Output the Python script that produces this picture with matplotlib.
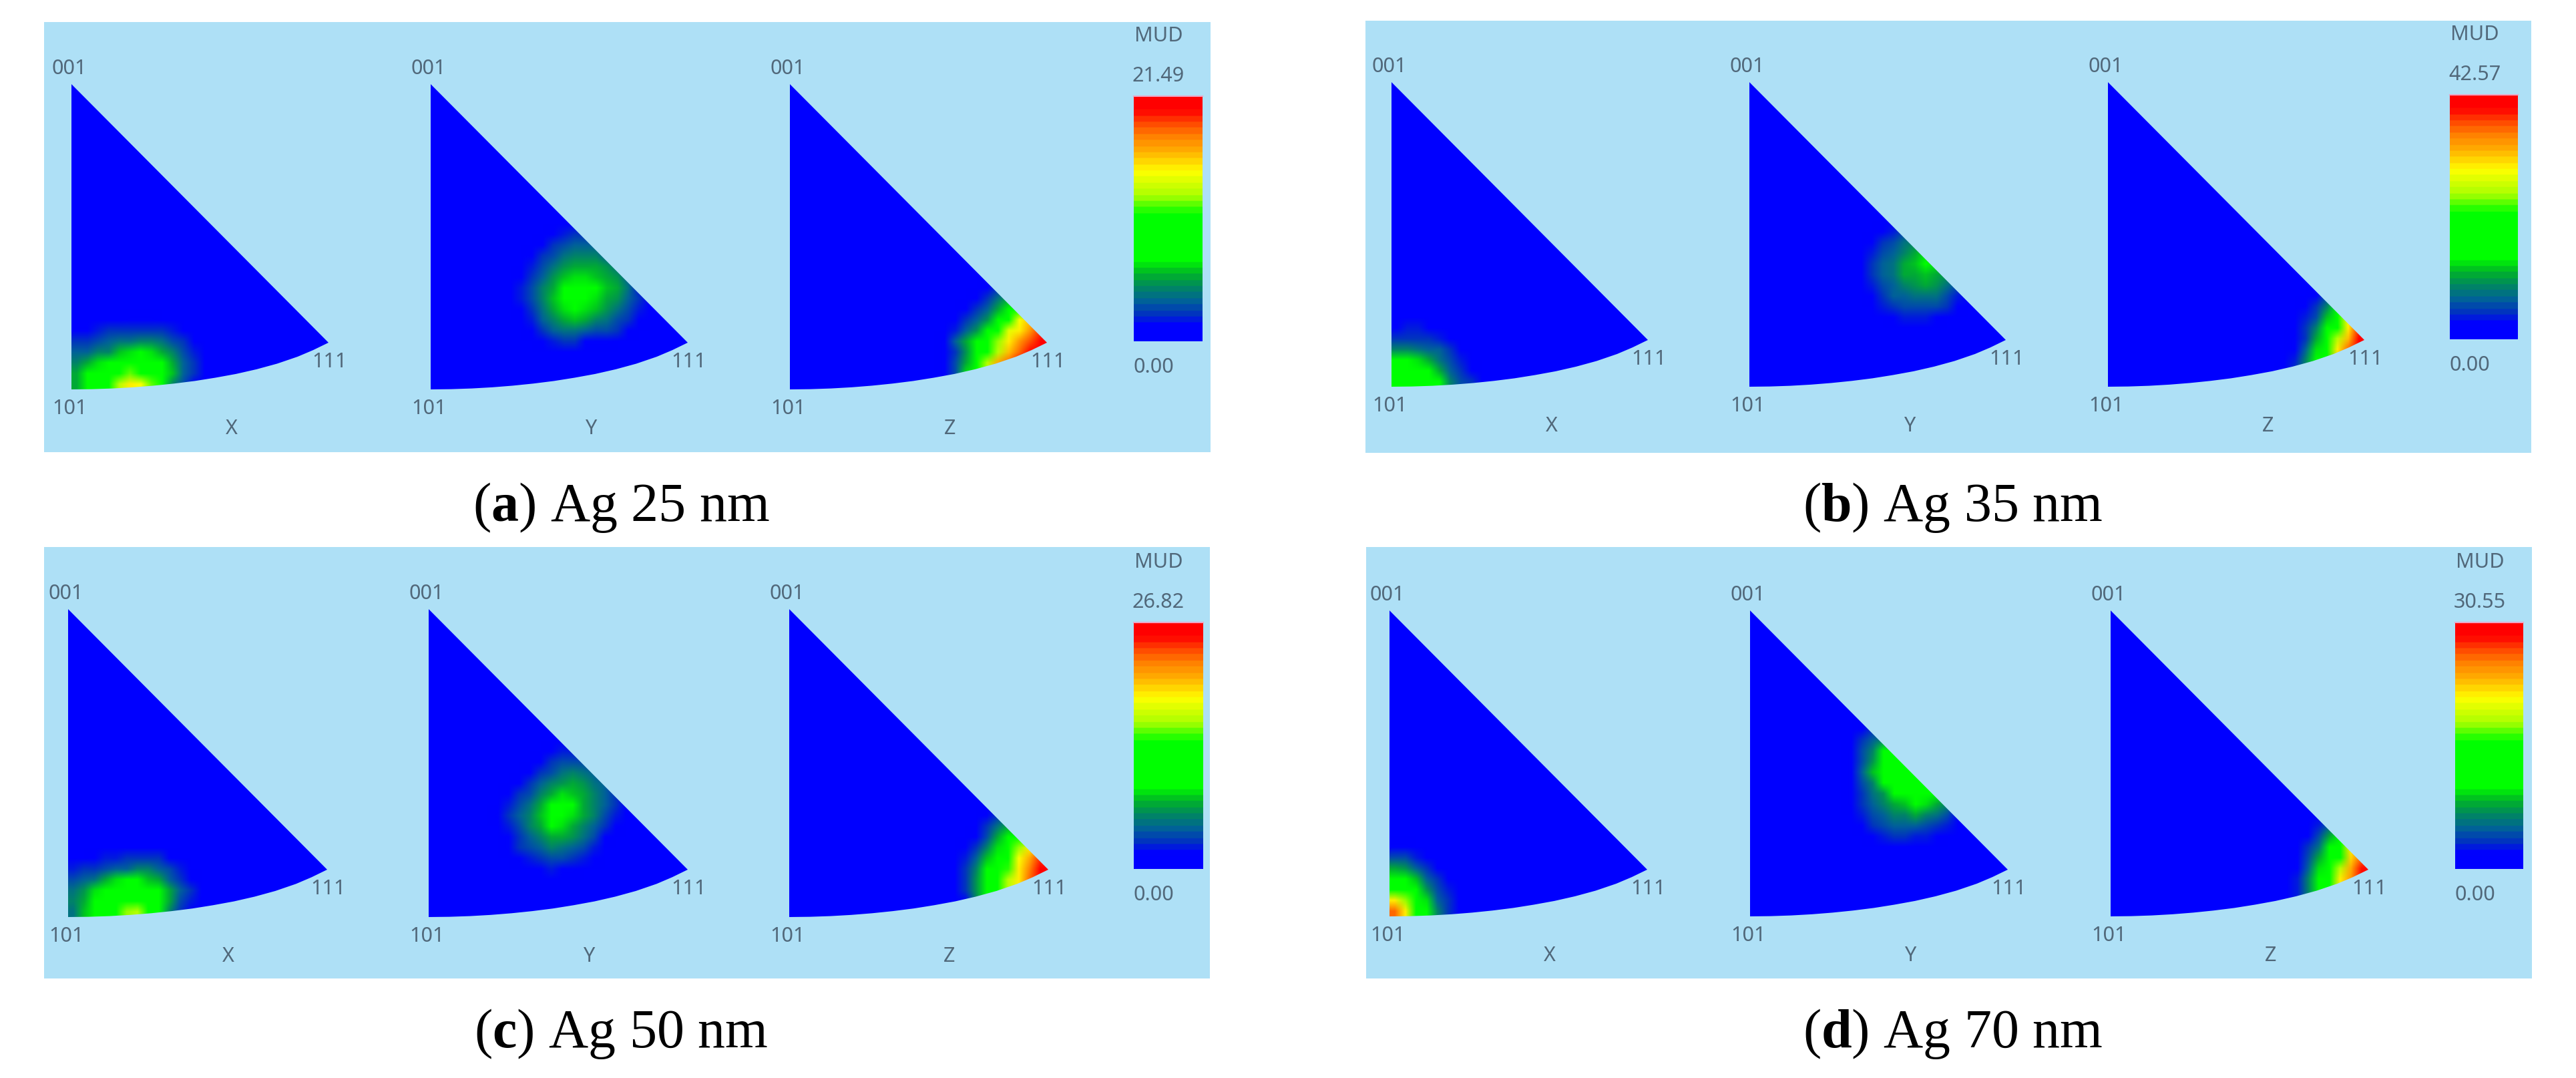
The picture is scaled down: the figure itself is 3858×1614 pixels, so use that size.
import numpy as np
import matplotlib
matplotlib.use("Agg")
import matplotlib.pyplot as plt
from matplotlib.colors import LinearSegmentedColormap
from matplotlib.patches import Polygon, Rectangle

plt.rcParams["mathtext.fontset"] = "custom"
plt.rcParams["mathtext.rm"] = "Liberation Serif"
plt.rcParams["mathtext.bf"] = "Liberation Serif:bold"

# caption letters, film thickness and colour bar maxima
LETTERS = ["a", "b", "c", "d"]
THICKNESS = ["25", "35", "50", "70"]
MUD_MAX = ["21.49", "42.57", "26.82", "30.55"]
AXES_NAMES = ["X", "Y", "Z"]

# colour bar: position on the bar and colour
BAR_POS = [0, .05, .10, .157, .22, .27, .33, .52, .60, .70, .78, .85, .91, .96, 1]
BAR_COL = ["#0000ff", "#0000ff", "#0032c0", "#006496", "#008c5a", "#00b428", "#00ff00", "#00ff00",
           "#aaff00", "#ffff00", "#ffb400", "#ff8000", "#ff4000", "#ff0000", "#ff0000"]

# density patches as fractions of the maximum, top row first
A_X = [[0, 0, 0, .03, .03, .05, .05, .05, .03, 0, 0, 0, 0],
       [.06, .06, .08, .11, .11, .11, .12, .12, .12, .08, .03, 0, 0],
       [.11, .11, .13, .16, .18, .18, .2, .2, .18, .14, .1, .04, 0],
       [.15, .15, .2, .22, .28, .32, .33, .32, .26, .2, .13, .09, .02],
       [.22, .26, .32, .35, .37, .4, .4, .38, .35, .25, .16, .11, .03],
       [.26, .33, .38, .42, .52, .56, .52, .42, .36, .28, .17, .1, .02],
       [.25, .33, .36, .45, .62, .72, .68, .55, .33, .22, .13, .06, 0]]
A_Y = [[0, 0, 0, 0, .05, .09, .12, .12, .09, .05, 0, 0, 0],
       [0, 0, 0, .05, .1, .14, .17, .17, .15, .1, .05, 0, 0],
       [0, 0, .05, .1, .14, .19, .22, .22, .2, .16, .1, 0, 0],
       [0, .03, .09, .14, .19, .24, .27, .27, .27, .24, .18, .11, 0],
       [0, .06, .12, .17, .24, .28, .32, .32, .29, .27, .24, .17, .05],
       [.02, .09, .14, .2, .27, .33, .38, .4, .34, .28, .25, .19, .09],
       [.02, .08, .14, .2, .28, .35, .4, .38, .32, .27, .23, .17, .1],
       [.01, .06, .12, .18, .26, .31, .34, .32, .28, .23, .18, .14, .08],
       [0, .03, .08, .15, .21, .27, .28, .25, .21, .18, .14, .1, .05],
       [0, 0, .05, .11, .15, .18, .19, .17, .14, .13, .12, .07, .02],
       [0, 0, .02, .05, .09, .11, .1, .07, .05, .05, .04, .02, 0]]
A_Z = [[0, 0, 0, 0, 0, .03, .05, .05, .05, 0, 0, 0],
       [0, 0, 0, 0, 0, .05, .11, .16, .16, .1, 0, 0],
       [0, 0, 0, 0, .05, .1, .18, .27, .27, .2, 0, 0],
       [0, 0, 0, .05, .1, .17, .25, .36, .45, .45, .4, 0],
       [0, 0, .04, .1, .16, .24, .36, .44, .68, .76, .85, .85],
       [0, .04, .09, .15, .24, .36, .45, .66, .72, .82, .9, .9],
       [0, .07, .15, .26, .36, .44, .58, .7, .8, .88, .97, 1],
       [0, .05, .12, .24, .36, .42, .62, .76, .85, .95, 1, 1],
       [0, .05, .13, .27, .38, .6, .78, .85, .95, 1, 1, 1],
       [.02, .06, .14, .3, .4, .6, .8, .85, .95, 1, 1, 1]]

B_X = [[.03, .03, 0, 0, 0, 0, 0, 0],
       [.07, .08, .08, .04, .02, 0, 0, 0],
       [.11, .12, .11, .1, .09, .04, 0, 0],
       [.2, .2, .18, .16, .15, .1, .04, 0],
       [.35, .33, .3, .25, .18, .13, .08, .02],
       [.38, .38, .36, .33, .26, .15, .11, .05],
       [.42, .4, .4, .38, .33, .2, .13, .1]]
B_Y = [[0, 0, 0, .05, .08, .07, .04, 0, 0, 0],
       [0, .02, .05, .09, .13, .14, .12, .06, 0, 0],
       [0, .05, .1, .14, .18, .22, .22, .13, .05, 0],
       [.02, .08, .14, .17, .22, .26, .3, .26, .1, 0],
       [.02, .1, .15, .18, .25, .28, .33, .3, .22, .1],
       [.02, .1, .15, .19, .25, .27, .28, .27, .23, .15],
       [.01, .09, .14, .17, .21, .24, .25, .23, .18, .13],
       [0, .07, .12, .15, .17, .18, .19, .18, .14, .09],
       [0, .04, .08, .11, .13, .14, .14, .13, .1, .06],
       [0, .02, .04, .06, .08, .08, .08, .06, .04, .02]]
B_Z = [[0, 0, 0, 0, .03, .06, .06, 0, 0, 0],
       [0, 0, 0, .02, .06, .13, .2, .2, 0, 0],
       [0, 0, 0, .05, .1, .2, .34, .4, 0, 0],
       [0, 0, 0, .08, .14, .28, .4, .68, .8, .8],
       [0, 0, .04, .1, .2, .34, .5, .72, .9, .9],
       [0, 0, .05, .12, .25, .38, .6, .75, .95, 1],
       [0, .02, .07, .15, .3, .42, .7, .85, 1, 1],
       [0, .04, .08, .2, .33, .42, .75, .9, 1, 1],
       [.02, .05, .1, .2, .33, .42, .75, .9, 1, 1]]

C_X = [[.02, .02, .02, .03, .03, .03, .03, .03, .03, .02, 0, 0],
       [.03, .03, .06, .08, .09, .1, .11, .12, .12, .07, .04, 0],
       [.08, .1, .12, .14, .16, .17, .2, .2, .17, .13, .09, .03],
       [.14, .15, .18, .26, .3, .36, .36, .29, .25, .17, .12, .07],
       [.18, .24, .3, .36, .4, .42, .42, .4, .33, .25, .15, .11],
       [.2, .26, .36, .42, .42, .42, .42, .42, .38, .26, .14, .08],
       [.18, .28, .36, .42, .48, .58, .6, .45, .35, .2, .1, .03]]
C_Y = [[0, 0, 0, 0, .02, .05, .08, .09, .08, .04, 0, 0],
       [0, 0, 0, .02, .06, .1, .13, .14, .13, .1, .04, 0],
       [0, 0, .02, .06, .11, .14, .18, .2, .18, .15, .1, .04],
       [0, .02, .06, .11, .15, .2, .24, .26, .23, .19, .15, .08],
       [.02, .05, .1, .14, .2, .27, .31, .28, .25, .22, .16, .11],
       [.04, .09, .14, .18, .26, .33, .36, .33, .26, .22, .17, .12],
       [.05, .1, .15, .22, .28, .34, .36, .32, .26, .2, .14, .09],
       [.04, .09, .14, .2, .27, .33, .32, .27, .22, .16, .11, .05],
       [.02, .07, .12, .17, .22, .27, .27, .23, .18, .13, .07, .02],
       [0, .05, .1, .14, .17, .2, .18, .15, .13, .09, .04, 0],
       [0, .02, .05, .09, .12, .14, .13, .12, .09, .05, .02, 0],
       [0, 0, .02, .04, .07, .08, .07, .06, .04, .02, 0, 0]]
C_Z = [[0, 0, 0, .02, .05, .05, 0, 0, 0, 0],
       [0, 0, 0, .06, .12, .16, .16, 0, 0, 0],
       [0, 0, .04, .1, .18, .27, .27, .2, 0, 0],
       [0, 0, .07, .14, .25, .36, .44, .44, 0, 0],
       [0, .05, .11, .2, .32, .42, .58, .72, .82, .82],
       [0, .09, .16, .28, .37, .46, .68, .78, .9, .9],
       [.03, .11, .22, .34, .4, .54, .7, .84, .95, 1],
       [.04, .12, .24, .36, .42, .62, .72, .86, .98, 1],
       [.03, .1, .24, .36, .42, .62, .72, .86, .98, 1],
       [.02, .07, .2, .36, .42, .62, .72, .86, .98, 1]]

D_X = [[.06, .06, .03, 0, 0, 0, 0, 0],
       [.13, .13, .09, .04, 0, 0, 0, 0],
       [.25, .23, .15, .1, .04, 0, 0, 0],
       [.36, .35, .28, .16, .1, .03, 0, 0],
       [.5, .42, .36, .24, .14, .08, 0, 0],
       [.72, .58, .38, .3, .17, .1, .02, 0],
       [.85, .72, .4, .34, .22, .12, .05, 0]]
D_Y = [[0, .05, .07, .07, 0, 0, 0, 0, 0, 0],
       [0, .05, .1, .12, .12, 0, 0, 0, 0, 0],
       [.03, .1, .15, .22, .2, .2, 0, 0, 0, 0],
       [.05, .13, .2, .36, .38, .35, .35, 0, 0, 0],
       [.06, .14, .24, .36, .4, .4, .36, .36, 0, 0],
       [.06, .15, .28, .33, .38, .42, .4, .36, .36, 0],
       [.06, .13, .22, .33, .38, .42, .42, .4, .35, .35],
       [.05, .12, .18, .24, .33, .4, .4, .38, .36, .25],
       [.05, .12, .16, .2, .26, .28, .33, .3, .27, .22],
       [.04, .09, .13, .17, .2, .22, .25, .22, .18, .14],
       [.02, .06, .1, .13, .15, .16, .17, .14, .11, .08],
       [0, .03, .06, .08, .1, .1, .09, .08, .05, .02]]
D_Z = [[0, 0, 0, 0, .03, .05, .05, 0, 0, 0],
       [0, 0, 0, .02, .06, .12, .12, 0, 0, 0],
       [0, 0, 0, .04, .09, .17, .24, .24, 0, 0],
       [0, 0, 0, .07, .13, .25, .36, .4, 0, 0],
       [0, 0, .03, .1, .18, .33, .42, .72, .82, .82],
       [0, 0, .05, .13, .26, .38, .48, .74, .86, .9],
       [0, .02, .07, .16, .3, .4, .62, .78, .94, 1],
       [0, .03, .08, .2, .36, .44, .7, .82, .98, 1],
       [0, .04, .09, .22, .36, .45, .7, .85, 1, 1],
       [0, .03, .09, .22, .36, .45, .7, .85, 1, 1]]

PATCHES = [[A_X, A_Y, A_Z], [B_X, B_Y, B_Z], [C_X, C_Y, C_Z], [D_X, D_Y, D_Z]]

# where each patch sits in the 16 px density grid: first column, top row
PATCH_AT = [[(0, 6), (7, 14), (13, 10)],
            [(0, 6), (10, 15), (15, 9)],
            [(0, 6), (6, 15), (15, 10)],
            [(0, 6), (9, 18), (15, 10)]]

# layout in pixels of the picture
PANEL_BOX = [(66, 34, 1813, 678), (2045, 32, 3791, 679), (66, 820, 1812, 1466), (2046, 820, 3792, 1466)]
TRI_LEFT = [(107, 645, 1183), (2084, 2620, 3157), (102, 642, 1182), (2081, 2621, 3161)]
TRI_TIP_DX = [385, 384, 388, 386]
TRI_TOP = [127, 124, 913, 915]
TRI_BOTTOM = [584, 580, 1374, 1373]
TRI_TIP_RISE = [70, 70, 71, 70]
BAR_BOX = [(1698, 146, 1801, 512), (3669, 144, 3771, 509), (1698, 934, 1802, 1302), (3677, 934, 3779, 1302)]
CAPTION_AT = [(930, 760), (2925, 760), (930, 1548), (2925, 1548)]

# shape of the lower arc, as a fraction of the triangle width and rise
ARC_X = [0, .08, .16, .24, .32, .40, .48, .56, .64, .72, .80, .88, .94, 1]
ARC_Y = [0, .005, .02, .045, .08, .125, .18, .25, .33, .43, .55, .70, .84, 1]

PANEL_BG = "#aee0f6"
TEXT_COL = "#51687a"
CELL = 16
N_COLS, N_ROWS = 26, 30

cmap = LinearSegmentedColormap.from_list("mud", list(zip(BAR_POS, BAR_COL)), N=40)

fig = plt.figure(figsize=(38.58, 16.15), dpi=100)
ax = fig.add_axes([0, 0, 1, 1])
ax.set_xlim(0, 3858)
ax.set_ylim(1615, 0)
ax.set_autoscale_on(False)
ax.axis("off")


def label(x, y, s, **kw):
    ax.text(x, y, s, ha="center", va="center", fontsize=22, color=TEXT_COL,
            family="Noto Sans", zorder=5, **kw)


for i in range(4):
    x0, y0, x1, y1 = PANEL_BOX[i]
    ax.add_patch(Rectangle((x0, y0), x1 - x0, y1 - y0, facecolor=PANEL_BG, edgecolor="none", zorder=0))

    top, bottom = TRI_TOP[i], TRI_BOTTOM[i]
    width, rise = TRI_TIP_DX[i], TRI_TIP_RISE[i]
    for j, left in enumerate(TRI_LEFT[i]):
        grid = np.zeros((N_ROWS, N_COLS))
        col, row = PATCH_AT[i][j]
        vals = np.array(PATCHES[i][j])
        for k, line in enumerate(vals):
            grid[row - k, col:col + len(line)] = line

        # blur after the colours are looked up, as in the screenshot
        img = ax.imshow(grid, cmap=cmap, vmin=0, vmax=1, origin="lower", aspect="auto",
                        interpolation="bilinear", interpolation_stage="rgba", zorder=2,
                        extent=(left, left + N_COLS * CELL, bottom, bottom - N_ROWS * CELL))
        outline = [(left, top)] + [(left + width * a, bottom - rise * b)
                                   for a, b in zip(ARC_X[::-1], ARC_Y[::-1])][::-1]
        tri = Polygon(outline, closed=True, transform=ax.transData, facecolor="none", edgecolor="none")
        ax.add_patch(tri)
        img.set_clip_path(tri)

        label(left - 3, top - 24, "001")
        label(left - 2, bottom + 28, "101")
        label(left + width + 2, bottom - rise + 28, "111")
        label(left + 240, bottom + 58, AXES_NAMES[j])

    bx0, by0, bx1, by1 = BAR_BOX[i]
    ax.imshow(np.linspace(1, 0, 256).reshape(-1, 1), cmap=cmap, vmin=0, vmax=1, aspect="auto",
              interpolation="bilinear", extent=(bx0, bx1, by1, by0), zorder=2)
    ax.plot([bx0, bx1], [by0 - 1, by0 - 1], color="#eba6c6", lw=1.5, zorder=3)
    label(bx0 + 37, by0 - 92, "MUD")
    label(bx0 + 37, by0 - 32, MUD_MAX[i])
    label(bx0 + 30, by1 + 38, "0.00")

    cx, cy = CAPTION_AT[i]
    ax.text(cx, cy, f"($\\mathbf{{{LETTERS[i]}}}$) Ag {THICKNESS[i]} nm", ha="center", va="center",
            fontsize=59, family="Liberation Serif", color="black")

fig.savefig("out.png", dpi=100, facecolor="white")
